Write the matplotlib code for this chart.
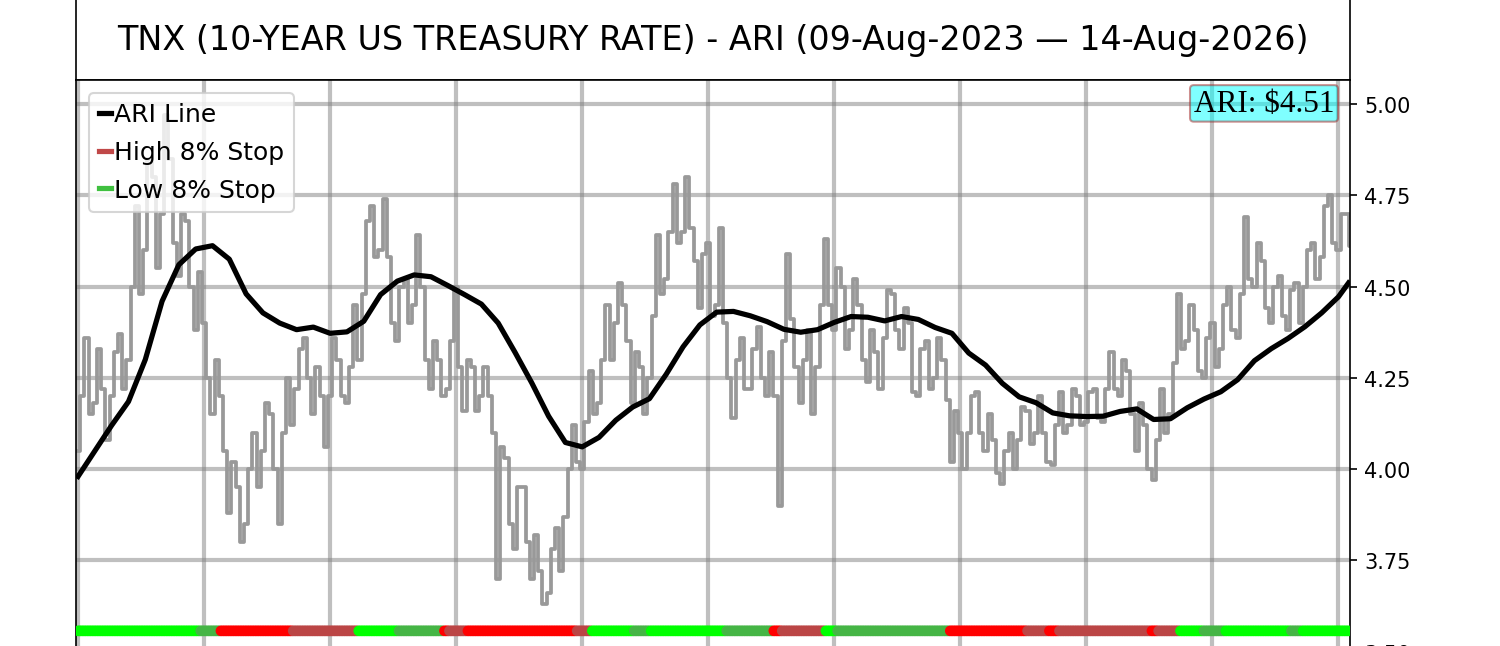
import numpy as np
import matplotlib
matplotlib.use("Agg")
import matplotlib.pyplot as plt

title_text = "TNX (10-YEAR US TREASURY RATE) - ARI (09-Aug-2023 \u2014 14-Aug-2026)"

# TNX low / high, one bucket every 5 trading days
tnx_step = 5
tnx_low = [
    4.05, 4.15, 4.18, 4.08, 4.20, 4.22, 4.30, 4.48, 4.60, 4.55,
    4.70, 4.62, 4.53, 4.50, 4.38, 4.25, 4.15, 4.05, 3.88, 3.80,
    3.85, 3.95, 4.05, 4.00, 3.85, 4.12, 4.22, 4.25, 4.15, 4.06,
    4.20, 4.20, 4.18, 4.30, 4.48, 4.58, 4.60, 4.40, 4.35, 4.40,
    4.45, 4.30, 4.22, 4.20, 4.22, 4.28, 4.16, 4.16, 4.20, 4.10,
    3.70, 3.85, 3.78, 3.80, 3.70, 3.63, 3.66, 3.72, 3.87, 4.02,
    4.00, 4.15, 4.18, 4.30, 4.40, 4.35, 4.18, 4.15, 4.25, 4.48,
    4.52, 4.62, 4.65, 4.57, 4.44, 4.42, 4.45, 4.25, 4.14, 4.22,
    4.22, 4.25, 4.20, 3.90, 4.35, 4.28, 4.18, 4.15, 4.28, 4.45,
    4.38, 4.33, 4.38, 4.30, 4.24, 4.22, 4.36, 4.38, 4.33, 4.21,
    4.20, 4.22, 4.25, 4.19, 4.02, 4.00, 4.10, 4.10, 4.05, 3.99,
    3.96, 4.00, 4.08, 4.07, 4.10, 4.02, 4.01, 4.10, 4.12, 4.12,
    4.13, 4.14, 4.13, 4.22, 4.20, 4.15, 4.05, 4.00, 3.97, 4.10,
    4.15, 4.33, 4.35, 4.27, 4.25, 4.28, 4.33, 4.38, 4.36, 4.52,
    4.50, 4.44, 4.40, 4.42, 4.38, 4.40, 4.50, 4.52, 4.58, 4.62,
    4.60, 4.61,
]
tnx_high = [
    4.20, 4.36, 4.33, 4.22, 4.32, 4.37, 4.50, 4.72, 4.85, 4.80,
    4.97, 4.85, 4.70, 4.68, 4.54, 4.40, 4.30, 4.20, 4.02, 3.95,
    4.00, 4.10, 4.18, 4.15, 4.10, 4.25, 4.33, 4.36, 4.28, 4.20,
    4.36, 4.30, 4.28, 4.45, 4.68, 4.72, 4.74, 4.58, 4.50, 4.52,
    4.64, 4.50, 4.35, 4.30, 4.35, 4.50, 4.30, 4.28, 4.28, 4.20,
    4.06, 4.03, 3.95, 3.95, 3.82, 3.72, 3.78, 3.84, 4.00, 4.12,
    4.13, 4.27, 4.30, 4.45, 4.51, 4.45, 4.32, 4.28, 4.42, 4.64,
    4.65, 4.78, 4.80, 4.66, 4.59, 4.62, 4.66, 4.40, 4.30, 4.36,
    4.33, 4.39, 4.32, 4.20, 4.59, 4.41, 4.30, 4.38, 4.45, 4.63,
    4.55, 4.50, 4.52, 4.45, 4.38, 4.32, 4.49, 4.48, 4.44, 4.40,
    4.33, 4.35, 4.36, 4.30, 4.16, 4.10, 4.20, 4.21, 4.15, 4.08,
    4.05, 4.10, 4.17, 4.16, 4.20, 4.10, 4.12, 4.21, 4.22, 4.20,
    4.21, 4.22, 4.22, 4.32, 4.30, 4.27, 4.18, 4.12, 4.08, 4.22,
    4.29, 4.48, 4.45, 4.38, 4.36, 4.40, 4.45, 4.50, 4.48, 4.69,
    4.62, 4.57, 4.50, 4.53, 4.49, 4.51, 4.60, 4.62, 4.72, 4.75,
    4.70, 4.70,
]

# ARI line, one reading every 10 trading days plus the last day
ari_days = list(range(0, 751, 10)) + [756]
ari_values = [
    3.98, 4.05, 4.12, 4.185, 4.30, 4.46, 4.56, 4.603, 4.612, 4.575,
    4.48, 4.428, 4.40, 4.382, 4.389, 4.372, 4.376, 4.405, 4.478, 4.515,
    4.532, 4.527, 4.503, 4.478, 4.452, 4.40, 4.32, 4.236, 4.145, 4.073,
    4.061, 4.087, 4.134, 4.17, 4.193, 4.26, 4.335, 4.395, 4.43, 4.432,
    4.42, 4.404, 4.383, 4.375, 4.382, 4.402, 4.418, 4.416, 4.406, 4.418,
    4.41, 4.388, 4.372, 4.318, 4.285, 4.235, 4.198, 4.182, 4.154, 4.146,
    4.144, 4.145, 4.158, 4.165, 4.136, 4.138, 4.168, 4.192, 4.212, 4.245,
    4.297, 4.33, 4.358, 4.39, 4.428, 4.472, 4.51,
]

# stop state bar: day where each state starts
n_days = 757
stop_starts = [0, 73, 85, 128, 167, 191, 218, 221, 232, 297,
               306, 331, 341, 386, 414, 419, 445, 452, 519, 565,
               578, 584, 639, 643, 656, 670, 683, 722, 729]
stop_states = ["low_new", "low", "high_new", "high", "low_new", "low", "high_new", "high", "high_new", "high",
               "low_new", "low", "low_new", "low", "high_new", "high", "low_new", "low", "high_new", "high",
               "high_new", "high", "high_new", "high", "low_new", "low", "low_new", "low", "low_new"]

state_colors = {"low_new": "#00ff00", "low": "#45b545",
                "high_new": "#ff0000", "high": "#bb4545"}

fig = plt.figure(figsize=(10, 4.313), dpi=150)

# title box
tax = fig.add_axes([0.0507, 0.8748, 0.849, 0.1252])
tax.set_xticks([])
tax.set_yticks([])
tax.text(0.5, 0.5, title_text, ha="center", va="center", fontsize=16, transform=tax.transAxes)

ax = fig.add_axes([0.0507, -0.037, 0.849, 0.9118])

# zigzag through each bucket's low and high
gx, gy = [], []
for k, (lo, hi) in enumerate(zip(tnx_low, tnx_high)):
    d = k * tnx_step
    if k % 2 == 0:
        gx += [d, d + 2.5]
        gy += [lo, hi]
    else:
        gx += [d, d + 2.5]
        gy += [hi, lo]
ax.plot(gx, gy, color="#999999", lw=1.8, drawstyle="steps-mid")
ax.plot(ari_days, ari_values, color="black", lw=2.5, label="ARI Line")

# stop bar
day_colors = []
bounds = stop_starts[1:] + [n_days]
for s, e, st in zip(stop_starts, bounds, stop_states):
    day_colors += [state_colors[st]] * (e - s)
stop_level = 3.557
ax.scatter(np.arange(n_days), np.full(n_days, stop_level), c=day_colors, s=26, linewidths=0, zorder=3)

# legend proxies
ax.plot([], [], color="#c04848", lw=2.5, label="High 8% Stop")
ax.plot([], [], color="#40c040", lw=2.5, label="Low 8% Stop")
ax.legend(loc="upper left", fontsize=12, handlelength=0.5, handletextpad=0.1,
          borderaxespad=0.5, labelspacing=0.55)

ax.text(0.988, 0.985, "ARI: $%.2f" % ari_values[-1], transform=ax.transAxes,
        ha="right", va="top", fontsize=15, family="Liberation Serif",
        bbox=dict(boxstyle="round,pad=0.12", facecolor="cyan", alpha=0.5, edgecolor="#a02020"))

ax.set_xlim(-1.2, 756.6)
ax.set_ylim(3.45, 5.0657)
ax.set_xticks(np.arange(0, 756, 75))
ax.set_yticks(np.arange(3.5, 5.01, 0.25))
ax.yaxis.tick_right()
ax.yaxis.set_major_formatter(matplotlib.ticker.FormatStrFormatter("%.2f"))
ax.grid(True, color="gray", alpha=0.5, lw=2)

fig.savefig("out.png", dpi=150)
